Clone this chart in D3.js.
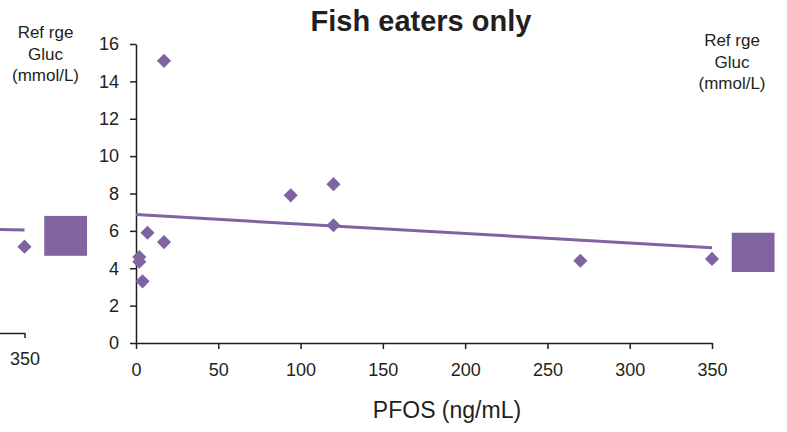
<!DOCTYPE html>
<html>
<head>
<meta charset="utf-8">
<script src="https://d3js.org/d3.v7.min.js"></script>
<style>
  body { margin: 0; background: #fff; }
  svg { font-family: "Liberation Sans", Arial, sans-serif; }
  .axis path, .axis line { stroke: #231f20; stroke-width: 1.5px; }
  .axis text { fill: #231f20; font-size: 18px; }
  .note { fill: #231f20; font-size: 17px; }
</style>
</head>
<body>
<script>
// fish eaters: PFOS (ng/mL) vs glucose (mmol/L)
var pfos = [17, 7, 17, 2, 2, 4, 94, 120, 120, 270, 350];
var gluc = [15.1, 5.9, 5.4, 4.6, 4.35, 3.3, 7.9, 8.5, 6.3, 4.4, 4.5];
var trendX = [0, 350];
var trendY = [6.87, 5.1];
var refRange = [3.8, 5.9];
var refX = [362, 388];
var xTicks = [0, 50, 100, 150, 200, 250, 300, 350];
var yTicks = [0, 2, 4, 6, 8, 10, 12, 14, 16];

// piece of the neighbouring panel cut off on the left
var leftPfos = [350];
var leftGluc = [4.28];
var leftTrendX = [320, 350];
var leftTrendY = [5.22, 5.16];
var leftTicks = [350];

var purple = "#8064a2";
var width = 787, height = 432;

var svg = d3.select("body").append("svg")
    .attr("width", width)
    .attr("height", height);

var x = d3.scaleLinear().domain([0, 350]).range([136, 712]);
var y = d3.scaleLinear().domain([0, 16]).range([343, 44]);

var xl = d3.scaleLinear().domain([0, 350]).range([24.5 - 576, 24.5]);
var yl = d3.scaleLinear().domain([0, 16]).range([328, 24]);

// axes
svg.append("g")
    .attr("class", "axis")
    .attr("transform", "translate(0," + y(0) + ")")
    .call(d3.axisBottom(x).tickValues(xTicks).tickSize(6).tickSizeOuter(0).tickPadding(14));

svg.append("g")
    .attr("class", "axis")
    .attr("transform", "translate(" + x(0) + ",0)")
    .call(d3.axisLeft(y).tickValues(yTicks).tickSize(6).tickSizeOuter(0).tickPadding(11));

svg.append("g")
    .attr("class", "axis")
    .attr("transform", "translate(0,333)")
    .call(d3.axisBottom(xl).tickValues(leftTicks).tickSize(5).tickSizeOuter(0).tickPadding(14));

// reference range boxes
svg.append("rect")
    .attr("x", x(refX[0]))
    .attr("width", x(refX[1]) - x(refX[0]))
    .attr("y", y(refRange[1]))
    .attr("height", y(refRange[0]) - y(refRange[1]))
    .attr("fill", purple);

svg.append("rect")
    .attr("x", xl(refX[0]))
    .attr("width", xl(refX[1]) - xl(refX[0]))
    .attr("y", yl(refRange[1]))
    .attr("height", yl(refRange[0]) - yl(refRange[1]))
    .attr("fill", purple);

// trend lines
var line = d3.line()
    .x(function (d) { return x(d[0]); })
    .y(function (d) { return y(d[1]); });
svg.append("path")
    .datum(d3.zip(trendX, trendY))
    .attr("d", line)
    .attr("fill", "none")
    .attr("stroke", purple)
    .attr("stroke-width", 3);

var lineL = d3.line()
    .x(function (d) { return xl(d[0]); })
    .y(function (d) { return yl(d[1]); });
svg.append("path")
    .datum(d3.zip(leftTrendX, leftTrendY))
    .attr("d", lineL)
    .attr("fill", "none")
    .attr("stroke", purple)
    .attr("stroke-width", 3);

// diamonds
var diamond = d3.symbol().type(d3.symbolSquare).size(100);

svg.selectAll(".pt")
    .data(d3.zip(pfos, gluc))
    .enter()
    .append("path")
    .attr("class", "pt")
    .attr("d", diamond)
    .attr("fill", purple)
    .attr("transform", function (d) {
        return "translate(" + x(d[0]) + "," + y(d[1]) + ") rotate(45)";
    });

svg.selectAll(".ptl")
    .data(d3.zip(leftPfos, leftGluc))
    .enter()
    .append("path")
    .attr("class", "ptl")
    .attr("d", diamond)
    .attr("fill", purple)
    .attr("transform", function (d) {
        return "translate(" + xl(d[0]) + "," + yl(d[1]) + ") rotate(45)";
    });

// texts
svg.append("text")
    .text("Fish eaters only")
    .attr("x", 421)
    .attr("y", 31)
    .attr("text-anchor", "middle")
    .style("font-weight", "bold")
    .style("font-size", "29px")
    .attr("fill", "#231f20");

svg.append("text")
    .text("PFOS (ng/mL)")
    .attr("x", 447)
    .attr("y", 418)
    .attr("text-anchor", "middle")
    .style("font-size", "23px")
    .attr("fill", "#231f20");

var refLines = ["Ref rge", "Gluc", "(mmol/L)"];
[45.5, 732].forEach(function (cx, k) {
    var t = svg.append("text")
        .attr("class", "note")
        .attr("text-anchor", "middle")
        .attr("x", cx)
        .attr("y", k == 0 ? 38 : 46);
    t.selectAll("tspan")
        .data(refLines)
        .enter()
        .append("tspan")
        .attr("x", cx)
        .attr("dy", function (d, i) { return i == 0 ? 0 : 21.5; })
        .text(function (d) { return d; });
});
</script>
</body>
</html>
